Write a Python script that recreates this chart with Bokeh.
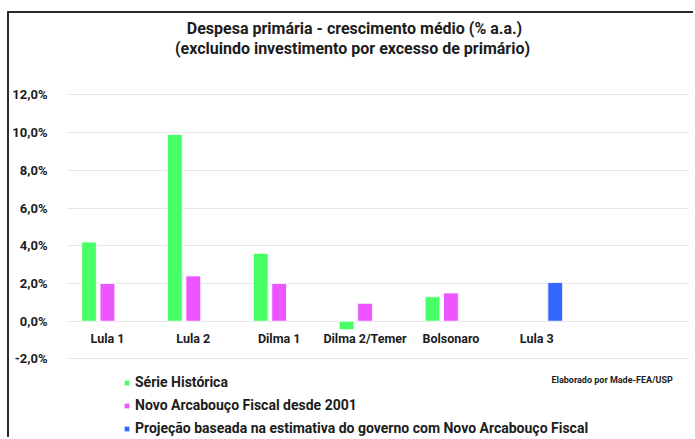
import numpy as np
from bokeh.plotting import figure
from bokeh.models import Range1d, FixedTicker, Legend, LegendItem, Label, ColumnDataSource
from bokeh.transform import dodge
from bokeh.core.properties import value
from bokeh.embed import file_html
from bokeh.resources import INLINE

categories = ["Lula 1", "Lula 2", "Dilma 1", "Dilma 2/Temer", "Bolsonaro", "Lula 3"]
serie_historica = [4.2, 9.9, 3.6, -0.45, 1.3, np.nan]
novo_arcabouco = [2.0, 2.4, 2.0, 0.95, 1.5, np.nan]
projecao = [np.nan, np.nan, np.nan, np.nan, np.nan, 2.05]
y_ticks = [-2, 0, 2, 4, 6, 8, 10, 12]
y_tick_labels = ["-2,0%", "0,0%", "2,0%", "4,0%", "6,0%", "8,0%", "10,0%", "12,0%"]
series_names = ["Série Histórica", "Novo Arcabouço Fiscal desde 2001",
                "Projeção baseada na estimativa do governo com Novo Arcabouço Fiscal"]
title_lines = ["Despesa primária - crescimento médio (% a.a.)",
               "(excluindo  investimento por excesso de primário)"]
source_note = "Elaborado por Made-FEA/USP"

FONT = "Roboto"
TXT = "#1c1c1c"
GREEN, PINK, BLUE = "#48FF66", "#EC55FF", "#3366FF"

idx = list(range(len(categories)))
src = ColumnDataSource(dict(x=idx, cat=categories, g=serie_historica, m=novo_arcabouco,
                            b=projecao, ly=[-0.92] * len(categories)))

p = figure(width=686, height=426, output_backend="svg", toolbar_location=None,
           x_range=Range1d(-0.477, 6.779), y_range=Range1d(-6.272, 16.316),
           min_border_left=56, min_border_right=6, min_border_top=0, min_border_bottom=0)
p.styles = {"margin-left": "7px", "margin-top": "11px",
            "border-left": "2px solid #2a2a2a", "border-top": "2px solid #2a2a2a"}
p.outline_line_color = None
p.background_fill_color = "white"
p.border_fill_color = "white"

w = 0.172
off = 0.215
rg = p.vbar(x=dodge("x", -off), top="g", bottom=0, width=w, source=src,
            fill_color=GREEN, line_color="white", line_width=0.8)
rm = p.vbar(x=dodge("x", 0), top="m", bottom=0, width=w, source=src,
            fill_color=PINK, line_color="white", line_width=0.8)
rb = p.vbar(x=dodge("x", off), top="b", bottom=0, width=w, source=src,
            fill_color=BLUE, line_color="white", line_width=0.8)

p.text(x="x", y="ly", text="cat", source=src, text_align="center", text_baseline="middle",
       text_font=value(FONT), text_font_style="bold", text_font_size="12.5px", text_color=TXT)

p.xaxis.visible = False
p.xgrid.visible = False
p.yaxis.ticker = FixedTicker(ticks=y_ticks)
p.yaxis.major_label_overrides = {t: l for t, l in zip(y_ticks, y_tick_labels)}
p.yaxis.axis_line_color = None
p.yaxis.major_tick_line_color = None
p.yaxis.minor_tick_line_color = None
p.yaxis.major_label_standoff = 13
p.yaxis.major_label_text_font = FONT
p.yaxis.major_label_text_font_style = "bold"
p.yaxis.major_label_text_font_size = "13px"
p.yaxis.major_label_text_color = TXT
p.ygrid.grid_line_color = "#e8e8e8"
p.ygrid.grid_line_width = 1

for t, yy in zip(title_lines, [411, 391]):
    p.add_layout(Label(x=288, y=yy, x_units="screen", y_units="screen", text=t,
                       text_align="center", text_baseline="middle", text_font=FONT,
                       text_font_style="bold", text_font_size="16px", text_color=TXT))

p.add_layout(Label(x=485, y=60, x_units="screen", y_units="screen", text=source_note,
                   text_align="left", text_baseline="middle", text_font=FONT,
                   text_font_style="bold", text_font_size="9px", text_color=TXT))

legend = Legend(items=[LegendItem(label=series_names[0], renderers=[rg]),
                       LegendItem(label=series_names[1], renderers=[rm]),
                       LegendItem(label=series_names[2], renderers=[rb])],
                location=(57, 1), orientation="vertical", padding=0, margin=0,
                spacing=3, glyph_width=7, glyph_height=7, label_height=20,
                label_standoff=5, label_text_font=FONT, label_text_font_style="bold",
                label_text_font_size="14px", label_text_color=TXT,
                background_fill_alpha=0, border_line_color=None)
p.add_layout(legend, "center")

open("out.html", "w").write(file_html(p, INLINE))
